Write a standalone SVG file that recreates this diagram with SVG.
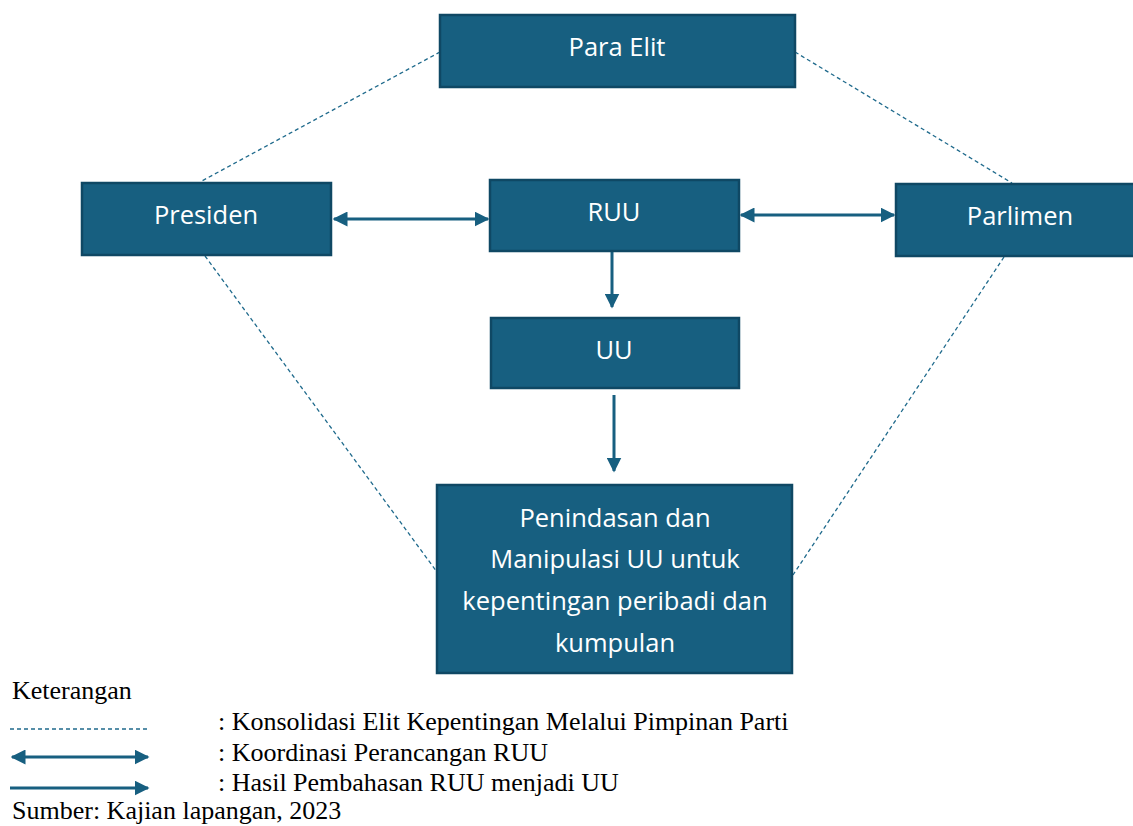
<svg xmlns="http://www.w3.org/2000/svg" width="1133" height="826" viewBox="0 0 1133 826">
<style>
.box{fill:#175f80;stroke:#0f4864;stroke-width:2.5}
.lbl{font-family:"Open Sans","Noto Sans",sans-serif;font-size:25.5px;fill:#ffffff;text-anchor:middle}
.dash{stroke:#1f6a8c;stroke-width:1.3;stroke-dasharray:4 3;fill:none}
.arr{stroke:#175f80;stroke-width:3;fill:none}
.leg{font-family:"Liberation Serif","Times New Roman",serif;font-size:26px;fill:#000000}
</style>
<defs>
<marker id="ah" viewBox="0 0 10 10" refX="9" refY="5" markerWidth="5" markerHeight="5" markerUnits="strokeWidth" orient="auto-start-reverse">
<path d="M0,0 L10,5 L0,10 z" fill="#175f80"/>
</marker>
</defs>
<g id="connectors">
<line class="dash" x1="440" y1="52" x2="200" y2="182"/>
<line class="dash" x1="795" y1="52" x2="1012" y2="183"/>
<line class="dash" x1="205" y1="256" x2="437" y2="572"/>
<line class="dash" x1="1004" y1="257" x2="793" y2="575"/>
<line class="arr" x1="334" y1="219" x2="488" y2="219" marker-start="url(#ah)" marker-end="url(#ah)"/>
<line class="arr" x1="741" y1="215" x2="894" y2="215" marker-start="url(#ah)" marker-end="url(#ah)"/>
<line class="arr" x1="612" y1="252" x2="612" y2="307" marker-end="url(#ah)"/>
<line class="arr" x1="614" y1="395" x2="614" y2="471" marker-end="url(#ah)"/>
</g>
<g id="para-elit">
<rect class="box" x="440" y="15" width="355" height="72"/>
<text class="lbl" x="617" y="56">Para Elit</text>
</g>
<g id="presiden">
<rect class="box" x="82" y="183" width="249" height="72"/>
<text class="lbl" x="206" y="224">Presiden</text>
</g>
<g id="ruu">
<rect class="box" x="490" y="180" width="249" height="71"/>
<text class="lbl" x="614" y="221">RUU</text>
</g>
<g id="parlimen">
<rect class="box" x="896" y="184" width="240" height="72"/>
<text class="lbl" x="1020" y="225">Parlimen</text>
</g>
<g id="uu">
<rect class="box" x="491" y="318" width="248" height="70"/>
<text class="lbl" x="614" y="359">UU</text>
</g>
<g id="penindasan">
<rect class="box" x="437" y="485" width="355" height="188"/>
<text class="lbl" x="615" y="527">Penindasan dan</text>
<text class="lbl" x="615" y="568">Manipulasi UU untuk</text>
<text class="lbl" x="615" y="610">kepentingan peribadi dan</text>
<text class="lbl" x="615" y="652">kumpulan</text>
</g>
<g id="legend">
<text class="leg" x="12" y="699">Keterangan</text>
<line class="dash" x1="10" y1="729" x2="148" y2="729"/>
<line class="arr" x1="12" y1="757" x2="148" y2="757" marker-start="url(#ah)" marker-end="url(#ah)"/>
<line class="arr" x1="10" y1="788" x2="148" y2="788" marker-end="url(#ah)"/>
<text class="leg" x="218" y="730">: Konsolidasi Elit Kepentingan Melalui Pimpinan Parti</text>
<text class="leg" x="218" y="761">: Koordinasi Perancangan RUU</text>
<text class="leg" x="218" y="791">: Hasil Pembahasan RUU menjadi UU</text>
<text class="leg" x="12" y="819">Sumber: Kajian lapangan, 2023</text>
</g>
</svg>
